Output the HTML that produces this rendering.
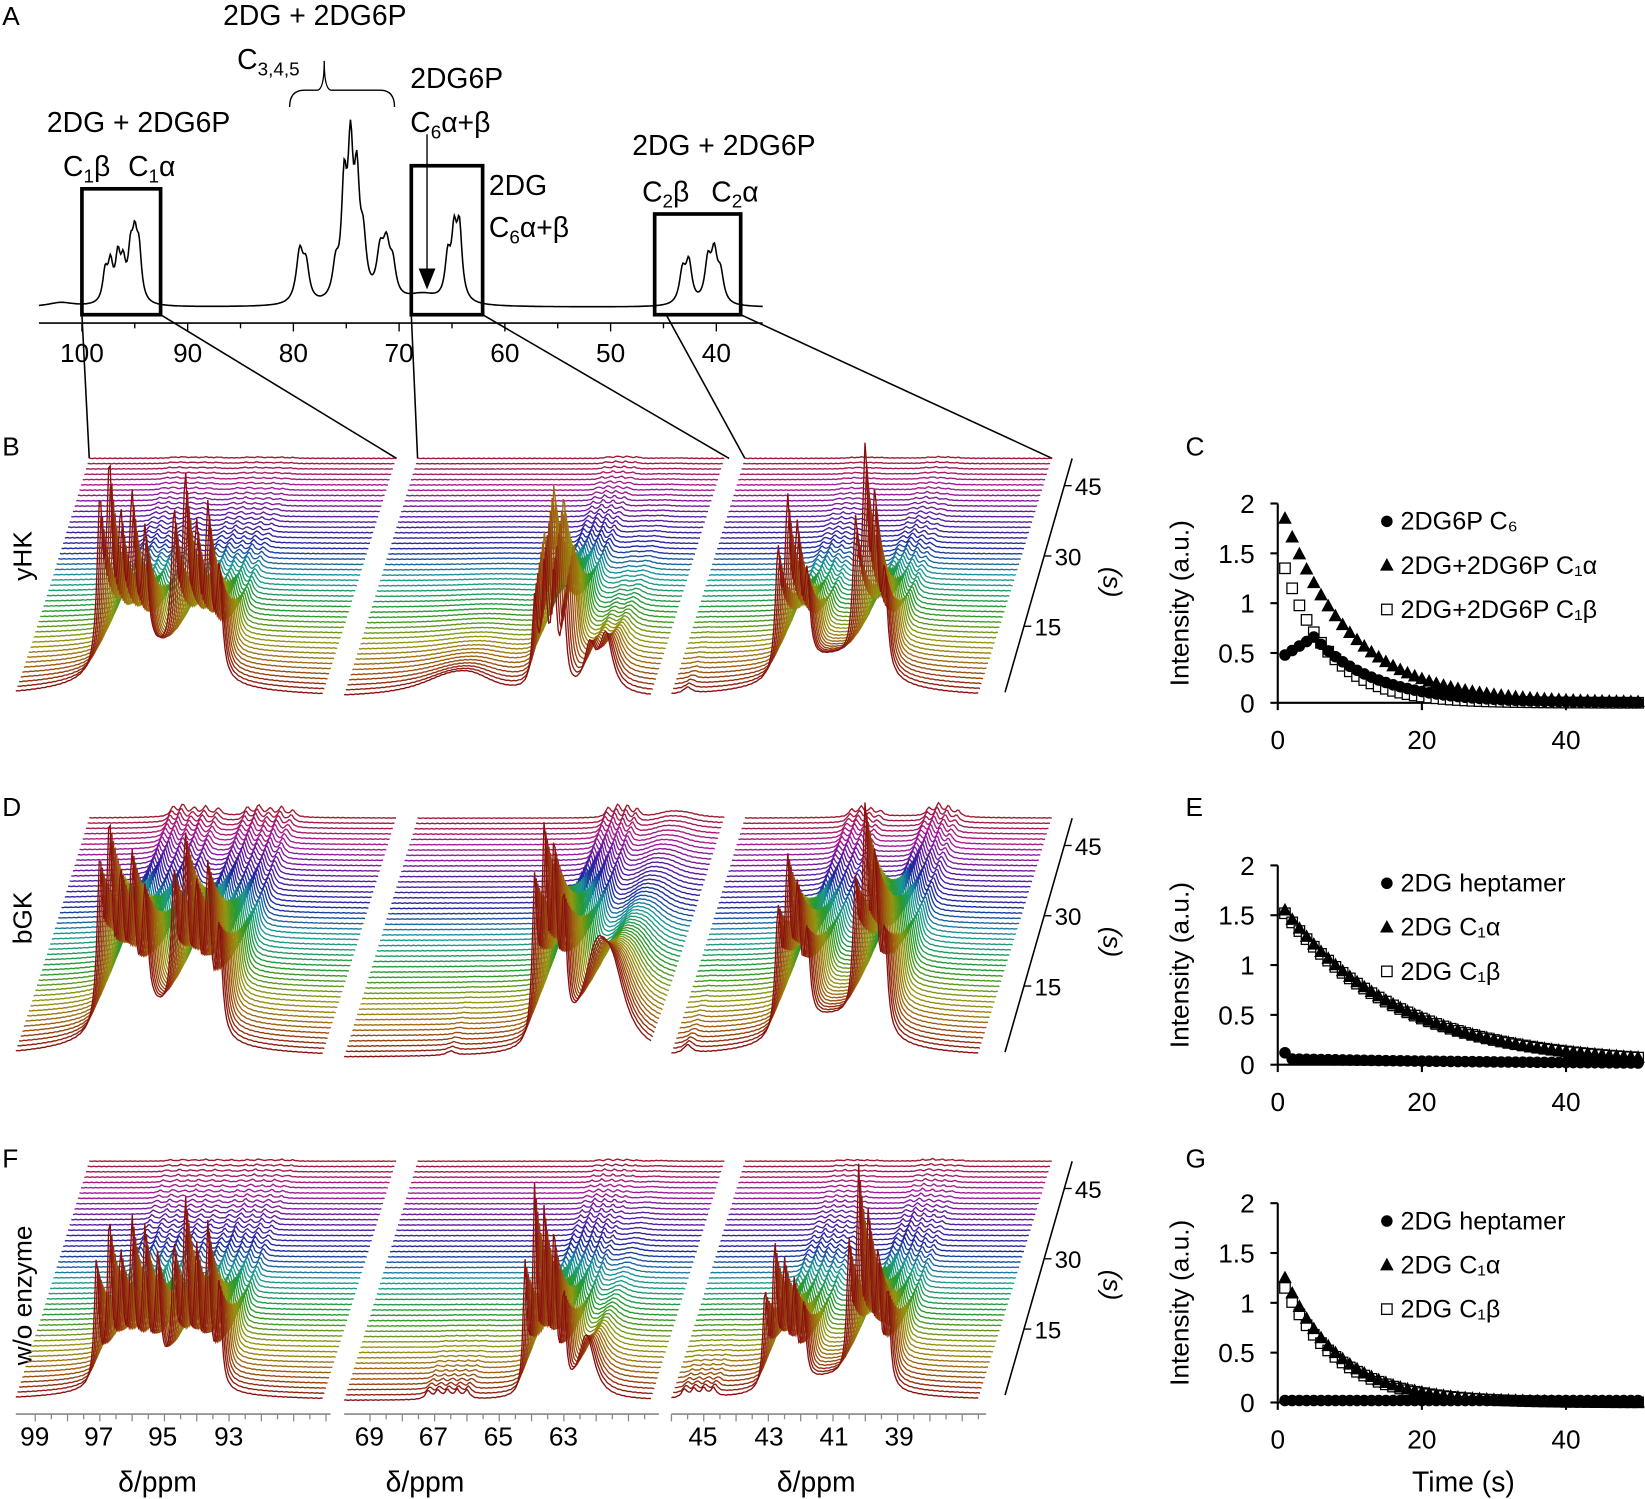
<!DOCTYPE html>
<html><head><meta charset="utf-8">
<style>html,body{margin:0;padding:0;background:#fff}svg{display:block}
text{font-family:"Liberation Sans",sans-serif;fill:#000}</style></head>
<body>
<svg id="s" width="1645" height="1499" viewBox="0 0 1568 1429" xmlns="http://www.w3.org/2000/svg">
<g font-size="27">
<text x="2" y="24" font-size="25">A</text>
<text x="300" y="24" text-anchor="middle">2DG + 2DG6P</text>
<text x="226" y="66">C<tspan font-size="18" dy="6">3,4,5</tspan></text>
<path d="M276,102 Q276,86 290,86 L302,86 Q309,86 309,58 Q309,86 316,86 L362,86 Q376,86 376,102" fill="none" stroke="#000" stroke-width="1.3"/>
<text x="132" y="126" text-anchor="middle">2DG + 2DG6P</text>
<text x="60" y="168">C<tspan font-size="18" dy="6">1</tspan><tspan dy="-6">β</tspan></text>
<text x="122" y="168">C<tspan font-size="18" dy="6">1</tspan><tspan dy="-6">α</tspan></text>
<text x="391" y="84">2DG6P</text>
<text x="391" y="126">C<tspan font-size="18" dy="6">6</tspan><tspan dy="-6">α+β</tspan></text>
<text x="466" y="186">2DG</text>
<text x="466" y="226">C<tspan font-size="18" dy="6">6</tspan><tspan dy="-6">α+β</tspan></text>
<text x="690" y="148" text-anchor="middle">2DG + 2DG6P</text>
<text x="612" y="192">C<tspan font-size="18" dy="6">2</tspan><tspan dy="-6">β</tspan></text>
<text x="678" y="192">C<tspan font-size="18" dy="6">2</tspan><tspan dy="-6">α</tspan></text>
</g>
<g font-size="25">
<text x="2" y="434">B</text><text x="1130" y="434">C</text>
<text x="2" y="778">D</text><text x="1130" y="778">E</text>
<text x="2" y="1113">F</text><text x="1130" y="1113">G</text>
<text transform="translate(30,530) rotate(-90)" text-anchor="middle">yHK</text>
<text transform="translate(30,875) rotate(-90)" text-anchor="middle">bGK</text>
<text transform="translate(30,1235) rotate(-90)" text-anchor="middle">w/o enzyme</text>
</g>
<g id="dyn"></g>
</svg>
<script>
const NS="http://www.w3.org/2000/svg",G=document.getElementById('dyn');
function el(t,a,txt){const e=document.createElementNS(NS,t);for(const k in a)e.setAttribute(k,a[k]);if(txt!==undefined)e.textContent=txt;G.appendChild(e);return e;}
function lor(x,c,w){const d=(x-c)/w;return 1/(1+d*d);}
// Panel A
const ax=p=>78+(100-p)*10.08;
const pk=[[97.8,28,.28],[97.3,34,.28],[96.6,40,.28],[96.1,32,.28],[95.4,42,.28],[95.0,50,.28],[94.6,45,.28],
[79.4,48,.4],[78.8,32,.35],[76.0,30,.35],[75.2,100,.3],[74.6,130,.3],[74.0,100,.3],[73.4,50,.35],[71.8,40,.4],[71.2,45,.4],[70.6,28,.35],
[65.4,38,.3],[64.8,58,.3],[64.3,66,.3],[67.8,10,2],[43.2,30,.35],[42.6,38,.35],[40.8,38,.35],[40.2,44,.35],[39.6,26,.35],[102,4,1.5]];
let d="";for(let x=37;x<=727;x+=1){const p=100-(x-78)/10.08;let y=0;for(const q of pk)y+=q[1]*lor(p,q[0],q[2]);d+=(x==37?"M":"L")+x+","+(293-y).toFixed(1);}
el('path',{d,fill:'none',stroke:'#000','stroke-width':1.5});
el('line',{x1:37,y1:308,x2:727,y2:308,stroke:'#000','stroke-width':1.5});
for(let p=100;p>=35;p-=5){if(ax(p)<37||ax(p)>727)continue;el('line',{x1:ax(p),y1:308,x2:ax(p),y2:p%10?313:316,stroke:'#000','stroke-width':1.3});}
for(let p=100;p>=40;p-=10)el('text',{x:ax(p),y:345,'text-anchor':'middle','font-size':25},p);
[[78,180,153,300],[392,158,460,300],[624,204,706,300]].forEach(b=>el('rect',{x:b[0],y:b[1],width:b[2]-b[0],height:b[3]-b[1],fill:'none',stroke:'#000','stroke-width':3.5}));
el('line',{x1:407,y1:128,x2:407,y2:258,stroke:'#000','stroke-width':1.3});
el('path',{d:'M399,256 L415,256 L407,276 Z',fill:'#000'});
[[78,300,85,437],[153,300,378,437],[392,300,398,437],[460,300,695,437],[635,300,710,437],[706,300,1003,437]].forEach(l=>el('line',{x1:l[0],y1:l[1],x2:l[2],y2:l[3],stroke:'#000','stroke-width':1.5}));
// palette
const st=[[0,[138,16,16]],[.12,[160,100,16]],[.22,[150,150,16]],[.35,[40,154,40]],[.5,[26,154,154]],[.62,[26,42,160]],[.75,[90,26,160]],[.88,[170,26,150]],[1,[160,26,48]]];
function col(f){for(let i=1;i<st.length;i++)if(f<=st[i][0]){const a=st[i-1],b=st[i],t=(f-a[0])/(b[0]-a[0]);return 'rgb('+a[1].map((v,k)=>Math.round(v+(b[1][k]-v)*t)).join(',')+')';}}
const N=46;
function stack(yF,panel){
 const groups=[[15,99.6],[328,69.8],[640,46.0]];
 const shx=70,shy=228;
 groups.forEach((g,gi)=>{
  const pks=SP[panel][gi];
  for(let i=N-1;i>=0;i--){
   const t=i, ox=g[0]+i*shx/(N-1), oy=yF-i*shy/(N-1);
   let d="";
   for(let x=0;x<=293;x+=1.5){
    const p=g[1]-x/30.8;let y=0;
    for(const q of pks){const amp=q[1]*q[3](t);if(amp<0.05)continue;y+=amp*lor(p,q[0],q[2]);}
    y+=0.25*Math.sin(x*1.3+i);
    d+=(x==0?"M":"L")+(ox+x).toFixed(1)+","+(oy-y).toFixed(1);
   }
   el('path',{d,fill:'none',stroke:col(i/(N-1)),'stroke-width':1.3});
  }
  if(panel==2){const y=1348;el('line',{x1:g[0],y1:y,x2:g[0]+300,y2:y,stroke:'#888','stroke-width':1.5});
   for(let k=0;k<=19;k++){const p=Math.floor(g[1])-k*0.5;const x=g[0]+(g[1]-p)*30.8;if(x>g[0]+300)break;el('line',{x1:x,y1:y,x2:x,y2:y+(Number.isInteger(p)?7:5),stroke:'#888','stroke-width':1.2});}
  }
 });
 const tx1=1022,ty1=yF-shy,tx2=958,ty2=yF-5;
 el('line',{x1:tx1,y1:ty1,x2:tx2,y2:ty2,stroke:'#000','stroke-width':1.5});
 [[45,26],[30,93],[15,160]].forEach(v=>{const y=ty1+v[1],x=tx1+(tx2-tx1)*(v[1]/(ty2-ty1));el('line',{x1:x,y1:y,x2:x+7,y2:y,stroke:'#000','stroke-width':1.3});el('text',{x:x+10,y:y+9,'font-size':23},v[0]);});
 el('text',{transform:'translate(1052,'+(ty1+118)+') rotate(90)','text-anchor':'middle','font-size':25,'font-style':'italic'},'(s)');
}
const dec=tau=>t=>Math.exp(-t/tau), gd=(tp,tau)=>t=>(t<tp?0.75+0.25*t/tp:Math.exp(-(t-tp)/tau));
function cluster(list,h,w,f){return list.map((p,k)=>[p,h[k%h.length],w,f]);}
const SP=[
 [
  [...cluster([97.0,96.7,96.35,96.0,95.6],[150,175,120,140,110],.1,dec(9)),...cluster([94.7,94.35,94.0,93.65,93.3],[130,165,120,150,100],.1,dec(9)),[95.5,40,1.6,dec(10)]],
  [...cluster([63.9,63.6,63.3,63.0],[110,150,140,100],.09,gd(6,9)),[62.2,40,.2,dec(9)],[61.7,55,.25,dec(9)],[66.5,18,1.2,dec(8)],[65.8,10,.8,dec(8)]],
  [...cluster([42.7,42.4,42.1,41.8],[110,150,120,80],.1,dec(9)),...cluster([40.3,40.0,39.7,39.4],[120,190,150,90],.1,dec(9)),[41,35,1.5,dec(10)],[45.5,6,.15,dec(5)]]
 ],
 [
  [...cluster([97.0,96.7,96.35,96.0,95.6],[150,175,120,140,110],.1,dec(16)),...cluster([94.7,94.35,94.0,93.65,93.3],[130,165,120,150,100],.1,dec(16)),[95.5,40,1.6,dec(16)]],
  [...cluster([63.9,63.6,63.3,63.0],[150,190,170,120],.09,dec(16)),[62.0,80,.5,dec(16)],[61.5,60,.5,dec(16)],[66.5,4,.15,dec(6)]],
  [...cluster([42.7,42.4,42.1,41.8],[110,150,120,80],.1,dec(16)),...cluster([40.3,40.0,39.7,39.4],[120,190,150,90],.1,dec(16)),[41,35,1.5,dec(16)],[45.5,8,.15,dec(6)]]
 ],
 [
  [...cluster([97.1,96.7,96.35,96.0,95.6,95.2],[120,150,110,140,130,110],.08,dec(10)),...cluster([94.7,94.35,94.0,93.65,93.3],[120,165,120,150,100],.08,dec(10)),[95.5,25,1.4,dec(10)]],
  [...cluster([64.2,63.9,63.6,63.3,63.0],[120,190,170,150,90],.07,dec(10)),[62.3,60,.3,dec(10)],...cluster([67.2,66.9,66.6,66.3,66.0],[8,8,8,8,8],.1,dec(5))],
  [...cluster([43.1,42.8,42.5,42.2,41.9],[90,130,110,90,70],.08,dec(10)),...cluster([40.5,40.2,39.9,39.6,39.3],[120,190,150,120,90],.08,dec(10)),[41,20,1.4,dec(10)],...cluster([45.6,45.3,45.0,44.7],[8,8,8,8],.1,dec(5))]
 ]
];
stack(665,0);stack(1008,1);stack(1335,2);
[[150,'δ/ppm'],[405,'δ/ppm'],[778,'δ/ppm']].forEach(v=>el('text',{x:v[0],y:1422,'text-anchor':'middle','font-size':27},v[1]));
[[33,99],[94,97],[155,95],[218,93],[352,69],[413,67],[475,65],[537,63],[670,45],[733,43],[795,41],[857,39]].forEach(v=>el('text',{x:v[0],y:1378,'text-anchor':'middle','font-size':25},v[1]));
function kin(y0,legend,series,showTime){
 const X=t=>1218+t*6.87,Y=v=>y0-v*95;
 el('line',{x1:1218,y1:Y(2),x2:1218,y2:y0,stroke:'#000','stroke-width':2});
 el('line',{x1:1218,y1:y0,x2:1566,y2:y0,stroke:'#000','stroke-width':2});
 [0,.5,1,1.5,2].forEach(v=>{el('line',{x1:1211,y1:Y(v),x2:1218,y2:Y(v),stroke:'#000','stroke-width':2});el('text',{x:1196,y:Y(v)+9,'text-anchor':'end','font-size':25},v);});
 [0,20,40].forEach(t=>{el('line',{x1:X(t),y1:y0,x2:X(t),y2:y0+7,stroke:'#000','stroke-width':2});el('text',{x:X(t),y:y0+44,'text-anchor':'middle','font-size':25},t);});
 el('text',{transform:'translate(1133,'+(y0-95)+') rotate(-90)','text-anchor':'middle','font-size':25},'Intensity (a.u.)');
 if(showTime)el('text',{x:1395,y:1422,'text-anchor':'middle','font-size':27},'Time (s)');
 function mk(type,x,y){if(type==0)el('circle',{cx:x,cy:y,r:5.5,fill:'#000'});else if(type==1)el('path',{d:`M${x},${y-7} L${x+6.5},${y+5} L${x-6.5},${y+5}Z`,fill:'#000'});else el('rect',{x:x-5,y:y-5,width:10,height:10,fill:'#fff',stroke:'#000','stroke-width':1.2});}
 [2,1,0].forEach(k=>{for(let t=1;t<=50;t++)mk(k,X(t),Y(series[k](t)));});
 legend.forEach((s,k)=>{const y=y0-173+k*42;mk(k,1322,y);el('text',{x:1335,y:y+8,'font-size':24},s);});
}
kin(670,['2DG6P C₆','2DG+2DG6P C₁α','2DG+2DG6P C₁β'],[t=>t<5?0.48+0.045*(t-1):0.66*Math.exp(-(t-5)/8.5),t=>1.85*Math.exp(-(t-1)/9.3),t=>1.35*Math.exp(-(t-1)/6.2)],false);
kin(1015,['2DG heptamer','2DG C₁α','2DG C₁β'],[t=>t<2?0.12:0.06*Math.exp(-t/40),t=>1.55*Math.exp(-(t-1)/16),t=>1.52*Math.exp(-(t-1)/16)],false);
kin(1337,['2DG heptamer','2DG C₁α','2DG C₁β'],[t=>0.02,t=>1.25*Math.exp(-(t-1)/7.6),t=>1.15*Math.exp(-(t-1)/7.6)],true);
</script>
</body></html>
